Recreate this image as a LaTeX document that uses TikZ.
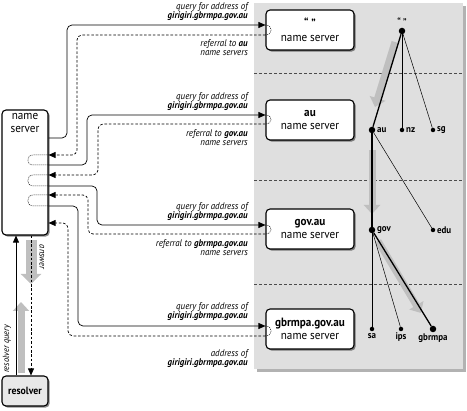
\documentclass[tikz,border=0pt]{standalone}
\usepackage{fontspec}
\setmainfont{PT Sans}[FakeStretch=0.93]
\usetikzlibrary{arrows.meta,shadows}
\begin{document}
\begin{tikzpicture}[x=1pt,y=-1pt,
  lbox/.style={draw, line width=1.1pt, rounded corners=4pt, fill=white, align=center,
    font=\fontsize{12}{13.5}\selectfont, inner sep=1pt,
    drop shadow={shadow xshift=1.6pt, shadow yshift=-1.6pt, fill=black, opacity=0.45}},
  srv/.style={lbox, minimum width=88pt, minimum height=40pt},
  conn/.style={line width=0.7pt, rounded corners=5pt, -{Triangle[length=7pt,width=6pt]}},
  dconn/.style={conn, dash pattern=on 2.6pt off 1.8pt},
  loopline/.style={line width=0.5pt, dash pattern=on 1pt off 1pt},
  qlab/.style={align=right, inner sep=0pt, font=\fontsize{9.6}{9.6}\selectfont\itshape},
  tdot/.style={circle, fill=black, inner sep=0pt, minimum size=4.5pt},
  bdot/.style={circle, fill=black, inner sep=0pt, minimum size=6.5pt},
  tlab/.style={inner sep=1.5pt, font=\fontsize{9.6}{10}\selectfont\bfseries},
  thick edge/.style={line width=1.3pt},
  thin edge/.style={line width=0.5pt},
  garrow/.style={line width=7pt, gray!50, -{Triangle[length=9pt,width=16pt]}},
  sep/.style={gray!60!black, line width=0.6pt, dash pattern=on 2.6pt off 2.4pt}
]
\useasboundingbox (0,0) rectangle (467,411);
% panel
\fill[gray!60] (257,6) rectangle (466,372);
\fill[gray!25] (254,3) rectangle (463,369);
\draw[sep] (254,73) -- (463,73);
\draw[sep] (254,180) -- (463,180);
\draw[sep] (254,284) -- (463,284);

% server boxes
\node[srv] (b0) at (310,30) {\textbf{“ ”}\\[1pt]name server};
\node[srv] (b1) at (310,120) {\textbf{au}\\name server};
\node[srv] (b2) at (310,229) {\textbf{gov.au}\\name server};
\node[srv] (b3) at (310,329) {\textbf{gbrmpa.gov.au}\\name server};

% local name server and resolver
\node[lbox, minimum width=46pt, minimum height=125pt] (ns) at (25,172.5) {};
\node[font=\fontsize{12}{13}\selectfont, align=center, anchor=north, inner sep=0pt] (nst) at (25,113) {name\\server};
\node[lbox, fill=gray!18, minimum width=46pt, minimum height=30pt] (res) at (25,391) {\fontsize{10.5}{12}\selectfont\textbf{resolver}};

% gray flow arrows at the resolver
\draw[garrow, line width=7pt] (21,373) -- (21,302);
\draw[garrow, line width=11pt, -{Triangle[length=10pt,width=20pt]}] (31,240) -- (31,284);
\draw[line width=0.7pt, -{Triangle[length=7pt,width=6pt]}] (res.north -| 16,0) -- (ns.south -| 16,0);
\draw[line width=0.7pt, dash pattern=on 2.6pt off 1.8pt, -{Triangle[length=7pt,width=6pt]}] (ns.south -| 31,0) -- (res.north -| 31,0);
\node[rotate=90, font=\fontsize{9}{9}\selectfont\itshape, inner sep=0pt] (rq) at (7,349) {resolver query};
\node[rotate=-90, font=\fontsize{9}{9}\selectfont\itshape, inner sep=0pt] (ans) at (42,257) {answer};

% queries and referrals
\draw[conn] (ns.east |- 0,138) -- (67,138) -- (67,25) -- (b0.west |- 0,25);
\draw[dconn] (b0.west |- 0,35) -- (77,35) -- (77,155) -- (ns.east |- 0,155);
\draw[conn] (ns.east |- 0,165) -- (87,165) -- (87,115) -- (b1.west |- 0,115);
\draw[dconn] (b1.west |- 0,124) -- (98,124) -- (98,175) -- (ns.east |- 0,175);
\draw[conn] (ns.east |- 0,186) -- (97,186) -- (97,225) -- (b2.west |- 0,225);
\draw[dconn] (b2.west |- 0,234) -- (88,234) -- (88,195) -- (ns.east |- 0,195);
\draw[conn] (ns.east |- 0,206) -- (78,206) -- (78,326) -- (b3.west |- 0,326);
\draw[dconn] (b3.west |- 0,336) -- (68,336) -- (68,223) -- (ns.east |- 0,223);

% small loops inside the boxes
\foreach \b/\ya/\yb in {b0/25/35, b1/115/124, b2/225/234, b3/326/336}{
  \draw[loopline] (\b.west |- 0,\ya) .. controls (273,\ya) and (273,\yb) .. (\b.west |- 0,\yb);
}
\foreach \ya/\yb in {155/165, 175/186, 195/206}{
  \draw[loopline] (ns.east |- 0,\ya) -- (33,\ya) .. controls (26,\ya) and (26,\yb) .. (33,\yb) -- (ns.east |- 0,\yb);
}

% labels
\node[qlab, anchor=south east] (q0) at (248,21) {query for address of\\\textbf{girigiri.gbrmpa.gov.au}};
\node[qlab, anchor=north east] (r0) at (248,39) {referral to \textbf{au}\\name servers};
\node[qlab, anchor=south east] (q1) at (248,111) {query for address of\\\textbf{girigiri.gbrmpa.gov.au}};
\node[qlab, anchor=north east] (r1) at (248,129) {referral to \textbf{gov.au}\\name servers};
\node[qlab, anchor=south east] (q2) at (248,221) {query for address of\\\textbf{girigiri.gbrmpa.gov.au}};
\node[qlab, anchor=north east] (r2) at (248,239) {referral to \textbf{gbrmpa.gov.au}\\name servers};
\node[qlab, anchor=south east] (q3) at (248,321) {query for address of\\\textbf{girigiri.gbrmpa.gov.au}};
\node[qlab, anchor=north east] (r3) at (248,349) {address of\\\textbf{girigiri.gbrmpa.gov.au}};

% tree
\draw[garrow] (395,42) -- (375,107);
\draw[garrow] (372,150) -- (372,214);
\draw[garrow] (378,241) -- (421,313);

\node[bdot] (root) at (402,31) {};
\node[tlab, above] (rootl) at (root.north) {“ ”};
\node[bdot] (au) at (372,130) {};
\node[tdot] (nz) at (402,130) {};
\node[tdot] (sg) at (433,130) {};
\node[bdot] (gov) at (372,230) {};
\node[tdot] (edu) at (433,230) {};
\node[tdot] (sa) at (372,329) {};
\node[tdot] (ips) at (401,329) {};
\node[bdot] (gbr) at (433,329) {};

\draw[thick edge] (root) -- (au);
\draw[thin edge] (root) -- (nz);
\draw[thin edge] (root) -- (sg);
\draw[thick edge] (au) -- (gov);
\draw[thin edge] (au) -- (edu);
\draw[thin edge] (gov) -- (sa);
\draw[thin edge] (gov) -- (ips);
\draw[thick edge] (gov) -- (gbr);

\node[tlab, right] (aul) at (au.east) {au};
\node[tlab, right] (nzl) at (nz.east) {nz};
\node[tlab, right] (sgl) at (sg.east) {sg};
\node[tlab, right] (govl) at (gov.east) {gov};
\node[tlab, right] (edul) at (edu.east) {edu};
\node[tlab, below] (sal) at (sa.south) {sa};
\node[tlab, below] (ipsl) at (ips.south) {ips};
\node[tlab, below] (gbrl) at (gbr.south) {gbrmpa};
\end{tikzpicture}
\end{document}
